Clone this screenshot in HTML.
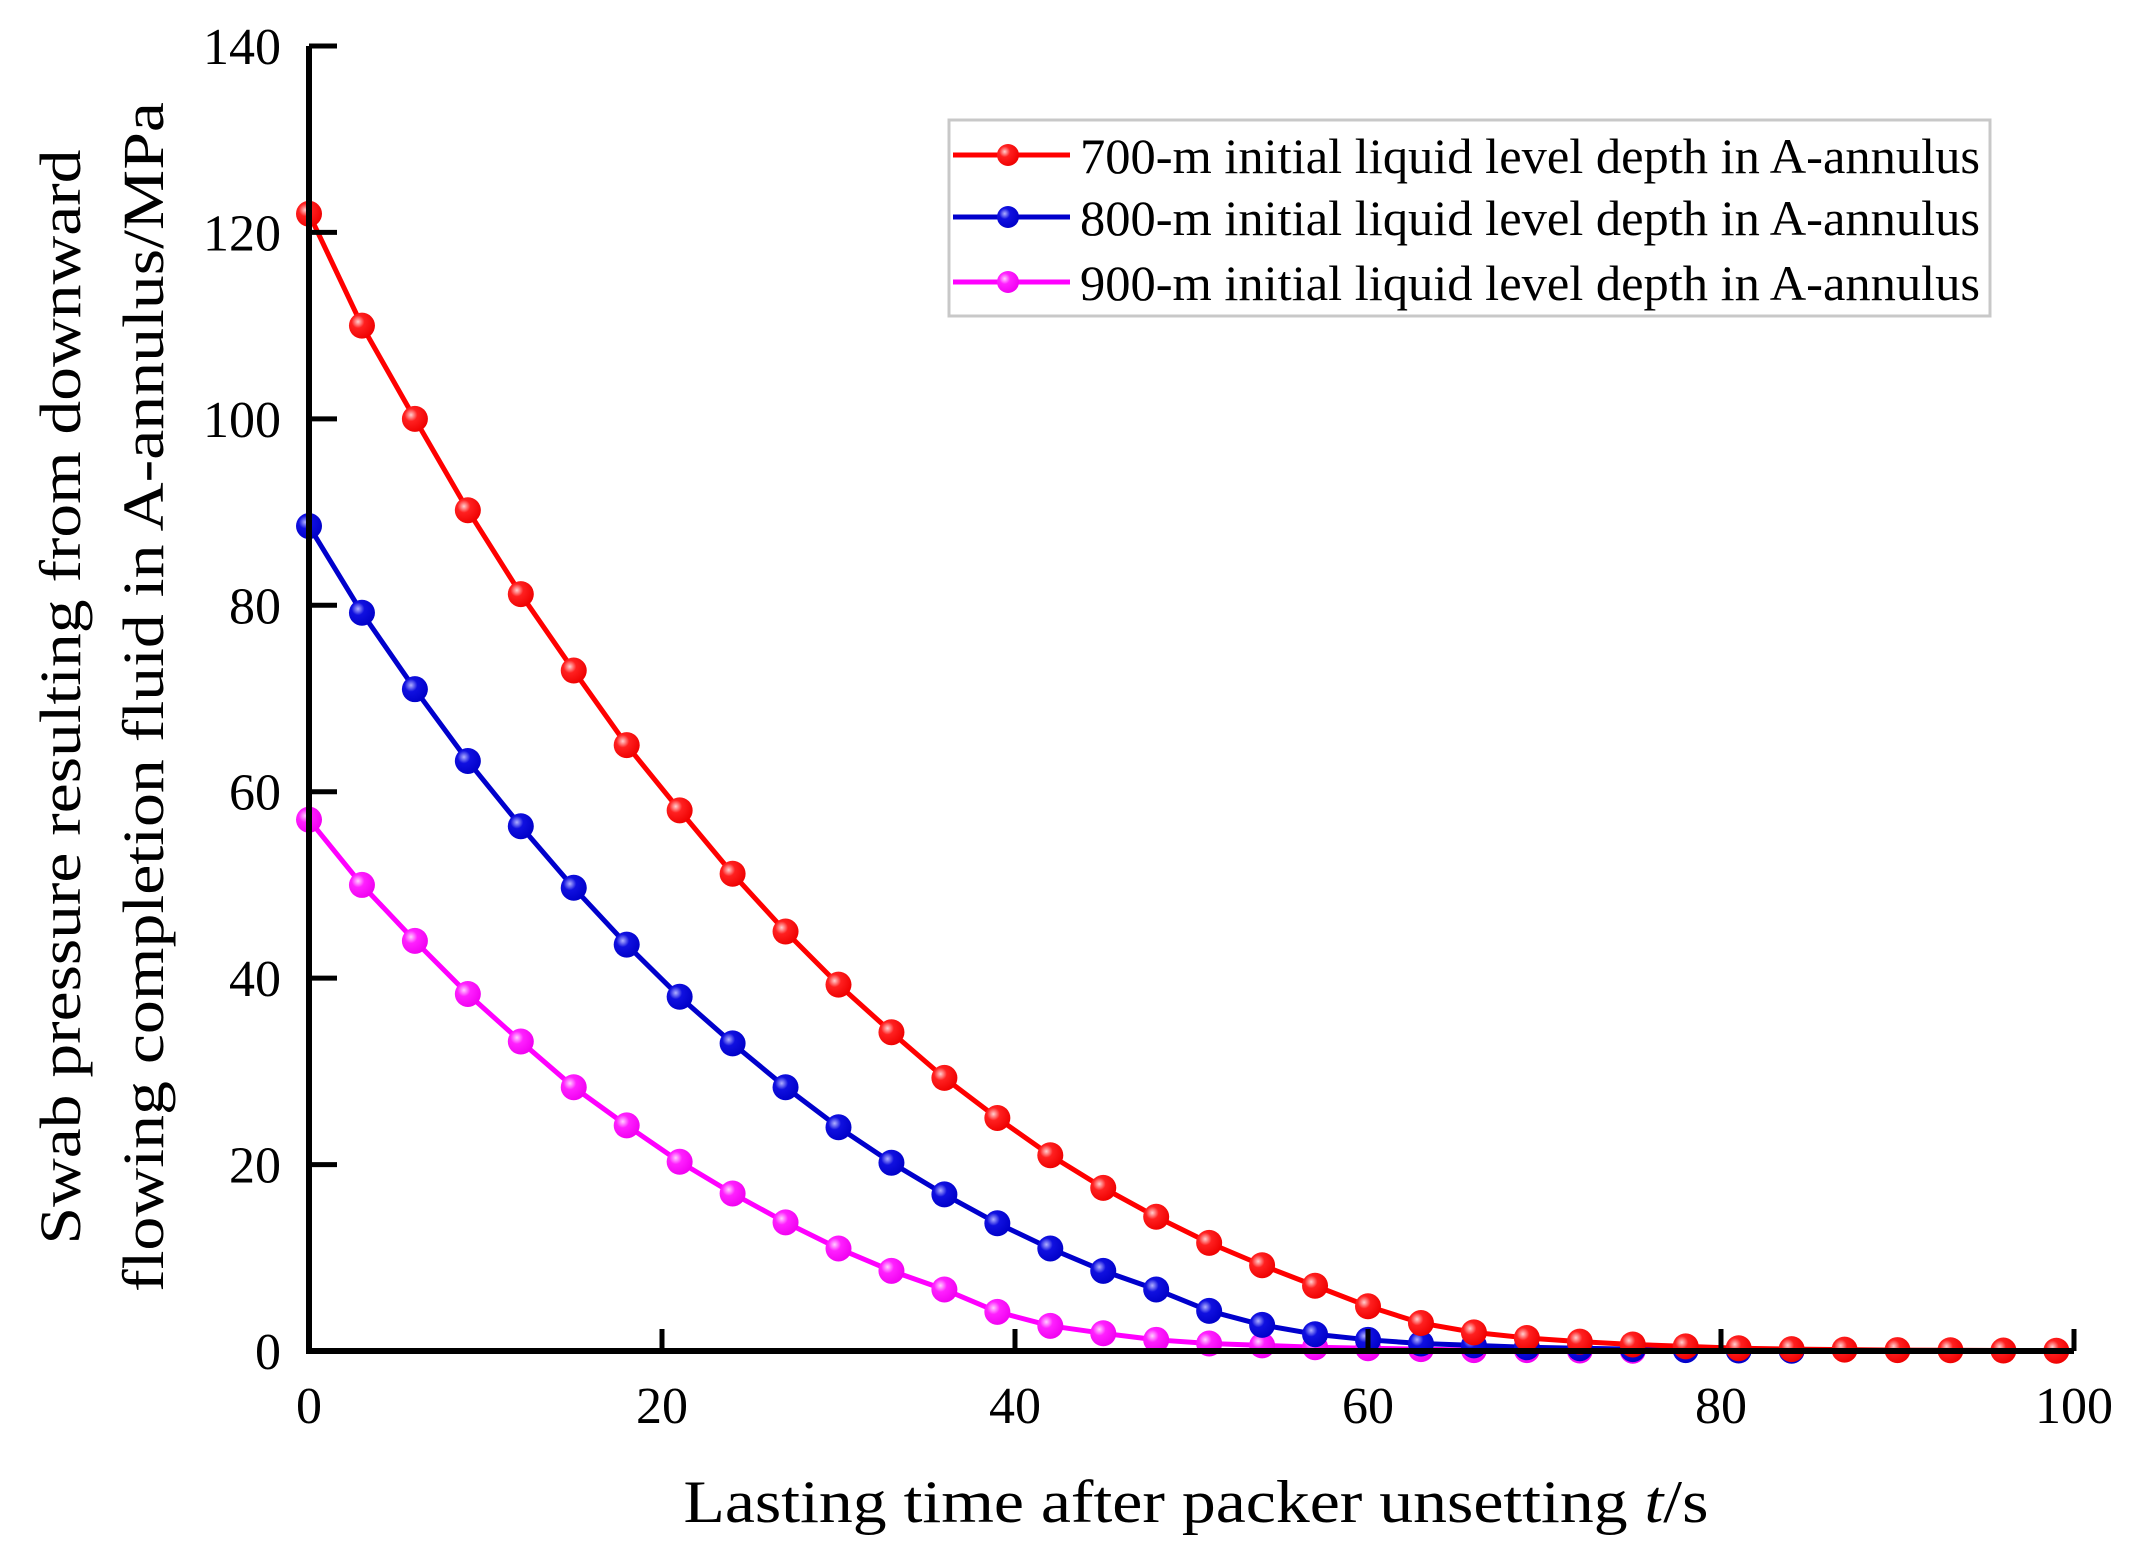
<!DOCTYPE html>
<html><head><meta charset="utf-8"><style>
html,body{margin:0;padding:0;background:#fff;}
svg{display:block;font-family:"Liberation Serif","DejaVu Serif",serif;}
</style></head><body>
<svg id="chart" width="2143" height="1563" viewBox="0 0 2143 1563" xmlns="http://www.w3.org/2000/svg">
<defs>
<radialGradient id="gr" cx="0.35" cy="0.35" r="0.7"><stop offset="0" stop-color="#ffd0d0"/><stop offset="0.35" stop-color="#ff2020"/><stop offset="1" stop-color="#ee0000"/></radialGradient>
<radialGradient id="gb" cx="0.35" cy="0.35" r="0.7"><stop offset="0" stop-color="#b0b0ff"/><stop offset="0.35" stop-color="#1010e0"/><stop offset="1" stop-color="#0000c8"/></radialGradient>
<radialGradient id="gm" cx="0.35" cy="0.35" r="0.7"><stop offset="0" stop-color="#ffd0ff"/><stop offset="0.35" stop-color="#ff20ff"/><stop offset="1" stop-color="#f000f0"/></radialGradient>
</defs>
<g id="plot"></g>
<g id="axes"></g>
<text transform="translate(80,697) rotate(-90)" text-anchor="middle" font-size="58" textLength="1095" lengthAdjust="spacingAndGlyphs">Swab pressure resulting from downward</text>
<text transform="translate(163,697) rotate(-90)" text-anchor="middle" font-size="58" textLength="1190" lengthAdjust="spacingAndGlyphs">flowing completion fluid in A-annulus/MPa</text>
<text x="1196" y="1522" text-anchor="middle" font-size="60" textLength="1025" lengthAdjust="spacingAndGlyphs">Lasting time after packer unsetting <tspan font-style="italic">t</tspan>/s</text>
<g>
<rect x="949" y="120" width="1041" height="196" fill="#fff" stroke="#c8c8c8" stroke-width="3"/>
<g><line x1="953" y1="155" x2="1070" y2="155" stroke="#ff0000" stroke-width="5"/><circle cx="1008" cy="155" r="11" fill="url(#gr)"/><text x="1080" y="173" font-size="50" textLength="900" lengthAdjust="spacingAndGlyphs">700-m initial liquid level depth in A-annulus</text></g>
<g><line x1="953" y1="217" x2="1070" y2="217" stroke="#0000cc" stroke-width="5"/><circle cx="1008" cy="217" r="11" fill="url(#gb)"/><text x="1080" y="235" font-size="50" textLength="900" lengthAdjust="spacingAndGlyphs">800-m initial liquid level depth in A-annulus</text></g>
<g><line x1="953" y1="282" x2="1070" y2="282" stroke="#ff00ff" stroke-width="5"/><circle cx="1008" cy="282" r="11" fill="url(#gm)"/><text x="1080" y="300" font-size="50" textLength="900" lengthAdjust="spacingAndGlyphs">900-m initial liquid level depth in A-annulus</text></g>
</g>
</svg>
<script>
const xTicks=[0,20,40,60,80,100];
const yTicks=[0,20,40,60,80,100,120,140];
const s700=[122,110,100,90.2,81.2,73,65,58,51.2,45,39.3,34.2,29.3,25,21,17.5,14.4,11.6,9.2,7,4.8,3,2,1.4,1,0.7,0.5,0.3,0.2,0.15,0.1,0.08,0.05,0.03];
const s800=[88.5,79.2,71,63.3,56.3,49.7,43.6,38,33,28.3,24,20.2,16.8,13.7,11,8.6,6.6,4.3,2.8,1.8,1.2,0.8,0.6,0.4,0.3,0.2,0.1,0.05,0.03];
const s900=[57,50,44,38.3,33.2,28.3,24.2,20.3,16.9,13.8,11,8.6,6.6,4.2,2.7,1.9,1.2,0.8,0.6,0.4,0.3,0.2,0.1,0.1,0.05,0.03];
const dt=3;
const X0=309,X1=2074,Y0=1351,Y1=46;
const xs=v=>X0+(v-0)/(100-0)*(X1-X0);
const ys=v=>Y0-(v-0)/(140-0)*(Y0-Y1);
const NS='http://www.w3.org/2000/svg';
const plot=document.getElementById('plot'),axes=document.getElementById('axes');
function mk(tag,attrs,parent){const e=document.createElementNS(NS,tag);for(const k in attrs)e.setAttribute(k,attrs[k]);parent.appendChild(e);return e;}
let ax=mk('path',{d:`M${X0},${Y1} V${Y0} H${X1}`,fill:'none',stroke:'#000','stroke-width':6},axes);


xTicks.forEach(t=>{
 const l=mk('line',{x1:xs(t),x2:xs(t),y1:Y0,y2:Y0-22,stroke:'#000','stroke-width':5},axes);
 
 
 const tx=mk('text',{x:xs(t),y:Y0+72,'text-anchor':'middle','font-size':52},axes);
 
 
 tx.textContent=t;
});
yTicks.forEach(t=>{
 const l=mk('line',{x1:X0,x2:X0+28,y1:ys(t),y2:ys(t),stroke:'#000','stroke-width':5},axes);
 
 
 const tx=mk('text',{x:X0-28,y:ys(t)+18,'text-anchor':'end','font-size':52},axes);
 
 
 tx.textContent=t;
});
function series(data,color,grad,name){
 const g=mk('g',{},plot);
 
 
 const pts=data.map((v,i)=>xs(i*dt)+','+ys(v)).join(' ');
 const pl=mk('polyline',{points:pts,fill:'none',stroke:color,'stroke-width':5,'stroke-linejoin':'round'},g);
 
 
 data.forEach((v,i)=>{
  const c=mk('circle',{cx:xs(i*dt),cy:ys(v),r:13,fill:grad},g);
  
  
 });
}
series(s900,'#ff00ff','url(#gm)','series-900m');
series(s800,'#0000cc','url(#gb)','series-800m');
series(s700,'#ff0000','url(#gr)','series-700m');
</script>
</body></html>
